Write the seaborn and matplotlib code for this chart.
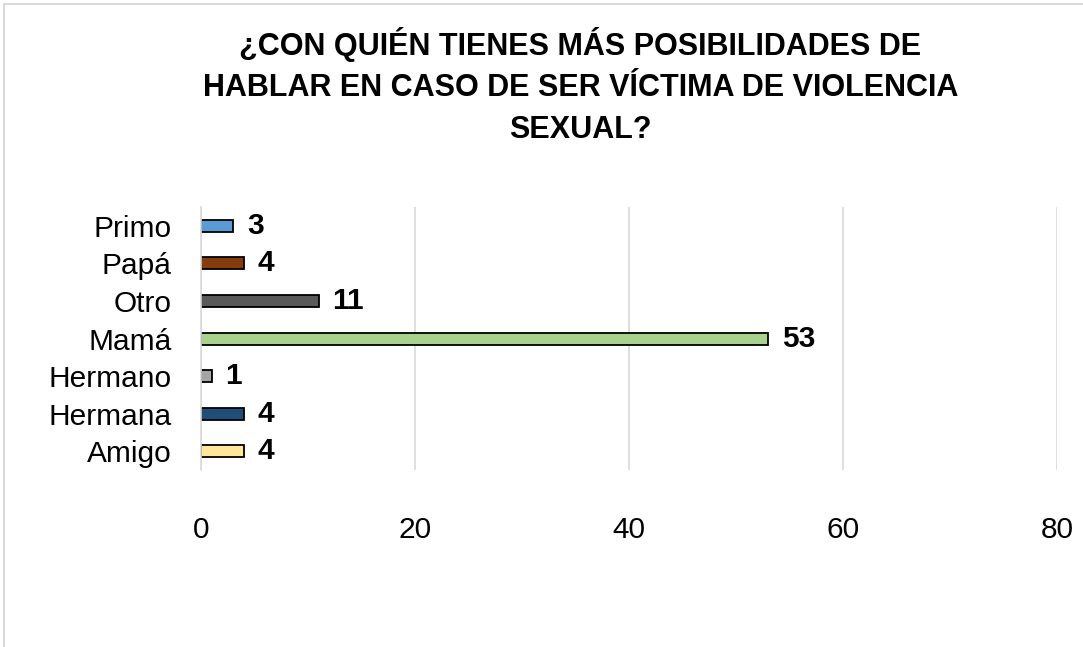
import matplotlib
matplotlib.use("Agg")
import matplotlib.pyplot as plt
import seaborn as sns
import pandas as pd
from matplotlib.lines import Line2D

sns.set_theme(style="white")
plt.rcParams["font.family"] = ["Liberation Sans", "DejaVu Sans"]
plt.rcParams["text.color"] = "black"
plt.rcParams["xtick.color"] = "black"
plt.rcParams["ytick.color"] = "black"

categories = ["Primo", "Papá", "Otro", "Mamá", "Hermano", "Hermana", "Amigo"]
values = [3, 4, 11, 53, 1, 4, 4]
colors = ["#5B9BD5", "#843C0C", "#595959", "#A9D18E", "#A5A5A5", "#1F4E79", "#FFE699"]
title = "¿CON QUIÉN TIENES MÁS POSIBILIDADES DE\nHABLAR EN CASO DE SER VÍCTIMA DE VIOLENCIA\nSEXUAL?"

df = pd.DataFrame({"persona": categories, "n": values})

fig = plt.figure(figsize=(10.83, 6.47), dpi=100)
ax = fig.add_axes([0.1856, 0.2736, 0.7904, 0.4064])

sns.barplot(data=df, y="persona", x="n", hue="persona", order=categories,
            palette=dict(zip(categories, colors)), saturation=1, orient="h",
            width=0.32, edgecolor="black", linewidth=1.3, legend=False, ax=ax)

for cont in ax.containers:
    ax.bar_label(cont, padding=10, fontsize=21.5, fontweight="bold",
                 color="black")

ax.set_xlim(0, 80)
ax.set_xticks([0, 20, 40, 60, 80])
ax.grid(axis="x", color="#D9D9D9", linewidth=1.2)
ax.set_axisbelow(True)
for s in ["top", "right", "bottom"]:
    ax.spines[s].set_visible(False)
ax.spines["left"].set_color("#D9D9D9")
ax.spines["left"].set_linewidth(1.2)
ax.tick_params(axis="x", labelsize=21.5, pad=33, length=0)
ax.tick_params(axis="y", labelsize=21.5, pad=21, length=0)
ax.set_xlabel("")
ax.set_ylabel("")

fig.text(0.536, 1 - 86 / 647, title, ha="center", va="center", fontsize=22,
         fontweight="bold", linespacing=1.5, color="black")

# chart area frame (top and left edges visible)
fig.add_artist(Line2D([4 / 1083, 4 / 1083], [0, 1 - 4 / 647],
                      transform=fig.transFigure, color="#D9D9D9", linewidth=1.5))
fig.add_artist(Line2D([4 / 1083, 1], [1 - 4 / 647, 1 - 4 / 647],
                      transform=fig.transFigure, color="#D9D9D9", linewidth=1.5))

fig.savefig("out.png", dpi=100)
